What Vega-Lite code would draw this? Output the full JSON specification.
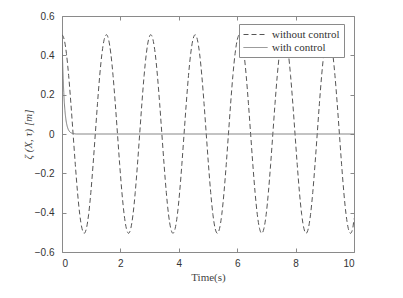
{
  "$schema": "https://vega.github.io/schema/vega-lite/v6.json",
  "autosize": "none",
  "width": 292,
  "height": 236,
  "padding": {"left": 62, "top": 16, "right": 49, "bottom": 46},
  "background": "white",
  "config": {
    "view": {"stroke": "#8a8a8a", "strokeWidth": 1},
    "axis": {
      "grid": false,
      "domain": false,
      "tickSize": -4,
      "tickColor": "#8a8a8a",
      "labelOverlap": false,
      "labelFont": "Liberation Sans",
      "labelFontSize": 10,
      "labelColor": "#333333",
      "titleFont": "Liberation Serif",
      "titleFontSize": 11,
      "titleFontWeight": "normal",
      "titleColor": "#444444"
    },
    "axisY": {"labelOverlap": false},
    "axisQuantitative": {"labelOverlap": false},
    "legend": {
      "title": null, "orient": "none", "legendX": 177, "legendY": 8,
      "symbolType": "M-1,0H3", "symbolSize": 144, "symbolStrokeWidth": 1,
      "labelFont": "Liberation Serif", "labelFontSize": 11, "labelColor": "#333333",
      "labelOffset": 16, "strokeColor": "#8a8a8a", "fillColor": "white",
      "padding": 4, "rowPadding": 1, "offset": 0
    }
  },
  "datasets": {
    "wo": [
      {"t":0,"v":0.505},{"t":0.076,"v":0.480},{"t":0.152,"v":0.409},{"t":0.228,"v":0.297},{"t":0.304,"v":0.156},{"t":0.38,"v":0},{"t":0.456,"v":-0.156},{"t":0.532,"v":-0.297},{"t":0.608,"v":-0.409},{"t":0.684,"v":-0.480},
      {"t":0.76,"v":-0.505},{"t":0.836,"v":-0.480},{"t":0.912,"v":-0.409},{"t":0.988,"v":-0.297},{"t":1.064,"v":-0.156},{"t":1.14,"v":0},{"t":1.216,"v":0.156},{"t":1.292,"v":0.297},{"t":1.368,"v":0.409},{"t":1.444,"v":0.480},
      {"t":1.52,"v":0.505},{"t":1.596,"v":0.480},{"t":1.672,"v":0.409},{"t":1.748,"v":0.297},{"t":1.824,"v":0.156},{"t":1.9,"v":0},{"t":1.976,"v":-0.156},{"t":2.052,"v":-0.297},{"t":2.128,"v":-0.409},{"t":2.204,"v":-0.480},
      {"t":2.28,"v":-0.505},{"t":2.356,"v":-0.480},{"t":2.432,"v":-0.409},{"t":2.508,"v":-0.297},{"t":2.584,"v":-0.156},{"t":2.66,"v":0},{"t":2.736,"v":0.156},{"t":2.812,"v":0.297},{"t":2.888,"v":0.409},{"t":2.964,"v":0.480},
      {"t":3.04,"v":0.505},{"t":3.116,"v":0.480},{"t":3.192,"v":0.409},{"t":3.268,"v":0.297},{"t":3.344,"v":0.156},{"t":3.42,"v":0},{"t":3.496,"v":-0.156},{"t":3.572,"v":-0.297},{"t":3.648,"v":-0.409},{"t":3.724,"v":-0.480},
      {"t":3.8,"v":-0.505},{"t":3.876,"v":-0.480},{"t":3.952,"v":-0.409},{"t":4.028,"v":-0.297},{"t":4.104,"v":-0.156},{"t":4.18,"v":0},{"t":4.256,"v":0.156},{"t":4.332,"v":0.297},{"t":4.408,"v":0.409},{"t":4.484,"v":0.480},
      {"t":4.56,"v":0.505},{"t":4.636,"v":0.480},{"t":4.712,"v":0.409},{"t":4.788,"v":0.297},{"t":4.864,"v":0.156},{"t":4.94,"v":0},{"t":5.016,"v":-0.156},{"t":5.092,"v":-0.297},{"t":5.168,"v":-0.409},{"t":5.244,"v":-0.480},
      {"t":5.32,"v":-0.505},{"t":5.396,"v":-0.480},{"t":5.472,"v":-0.409},{"t":5.548,"v":-0.297},{"t":5.624,"v":-0.156},{"t":5.7,"v":0},{"t":5.776,"v":0.156},{"t":5.852,"v":0.297},{"t":5.928,"v":0.409},{"t":6.004,"v":0.480},
      {"t":6.08,"v":0.505},{"t":6.156,"v":0.480},{"t":6.232,"v":0.409},{"t":6.308,"v":0.297},{"t":6.384,"v":0.156},{"t":6.46,"v":0},{"t":6.536,"v":-0.156},{"t":6.612,"v":-0.297},{"t":6.688,"v":-0.409},{"t":6.764,"v":-0.480},
      {"t":6.84,"v":-0.505},{"t":6.916,"v":-0.480},{"t":6.992,"v":-0.409},{"t":7.068,"v":-0.297},{"t":7.144,"v":-0.156},{"t":7.22,"v":0},{"t":7.296,"v":0.156},{"t":7.372,"v":0.297},{"t":7.448,"v":0.409},{"t":7.524,"v":0.480},
      {"t":7.6,"v":0.505},{"t":7.676,"v":0.480},{"t":7.752,"v":0.409},{"t":7.828,"v":0.297},{"t":7.904,"v":0.156},{"t":7.98,"v":0},{"t":8.056,"v":-0.156},{"t":8.132,"v":-0.297},{"t":8.208,"v":-0.409},{"t":8.284,"v":-0.480},
      {"t":8.36,"v":-0.505},{"t":8.436,"v":-0.480},{"t":8.512,"v":-0.409},{"t":8.588,"v":-0.297},{"t":8.664,"v":-0.156},{"t":8.74,"v":0},{"t":8.816,"v":0.156},{"t":8.892,"v":0.297},{"t":8.968,"v":0.409},{"t":9.044,"v":0.480},
      {"t":9.12,"v":0.505},{"t":9.196,"v":0.480},{"t":9.272,"v":0.409},{"t":9.348,"v":0.297},{"t":9.424,"v":0.156},{"t":9.5,"v":0},{"t":9.576,"v":-0.156},{"t":9.652,"v":-0.297},{"t":9.728,"v":-0.409},{"t":9.804,"v":-0.480},
      {"t":9.88,"v":-0.505},{"t":9.956,"v":-0.480},{"t":10,"v":-0.43}
    ],
    "wc": [
      {"t":0,"v":0.5},{"t":0.02,"v":0.376},{"t":0.04,"v":0.282},{"t":0.06,"v":0.212},{"t":0.08,"v":0.159},{"t":0.1,"v":0.12},{"t":0.13,"v":0.078},{"t":0.16,"v":0.051},{"t":0.2,"v":0.029},{"t":0.25,"v":0.014},{"t":0.3,"v":0.007},{"t":0.4,"v":0.002},{"t":0.5,"v":0},{"t":10,"v":0}
    ]
  },
  "resolve": {"axis": {"x": "independent", "y": "independent"}},
  "layer": [
    {
      "layer": [
        {
          "data": {"name": "wo"},
          "mark": {"type": "line", "strokeWidth": 1, "interpolate": "monotone", "clip": true},
          "transform": [{"calculate": "'without control'", "as": "s"}],
          "encoding": {
            "x": {"field": "t", "type": "quantitative", "scale": {"domain": [0, 10], "nice": false},
                  "axis": {"title": "Time(s)", "values": [0,2,4,6,8,10], "labelOverlap": false, "labelPadding": 10, "titlePadding": 3}},
            "y": {"field": "v", "type": "quantitative", "scale": {"domain": [-0.6, 0.6], "nice": false},
                  "axis": {"title": "ζ (X, τ) [m]", "titleFontStyle": "italic", "values": [-0.6,-0.4,-0.2,0,0.2,0.4,0.6], "labelOverlap": false, "labelSeparation": 0, "labelExpr": "datum.value == 0 ? '0' : format(datum.value, '.1f')", "labelPadding": 12, "titlePadding": 1}},
            "color": {"field": "s", "type": "nominal", "scale": {"domain": ["without control", "with control"], "range": ["#555555", "#7a7a7a"]}},
            "strokeDash": {"field": "s", "type": "nominal", "scale": {"domain": ["without control", "with control"], "range": [[5, 3], [1, 0]]}}
          }
        },
        {
          "data": {"name": "wc"},
          "mark": {"type": "line", "strokeWidth": 1, "interpolate": "monotone", "clip": true},
          "transform": [{"calculate": "'with control'", "as": "s"}],
          "encoding": {
            "x": {"field": "t", "type": "quantitative", "axis": {"title": "Time(s)", "values": [0,2,4,6,8,10], "labelOverlap": false, "labelPadding": 10, "titlePadding": 3}},
            "y": {"field": "v", "type": "quantitative", "axis": {"title": "ζ (X, τ) [m]", "titleFontStyle": "italic", "values": [-0.6,-0.4,-0.2,0,0.2,0.4,0.6], "labelOverlap": false, "labelSeparation": 0, "labelExpr": "datum.value == 0 ? '0' : format(datum.value, '.1f')", "labelPadding": 12, "titlePadding": 1}},
            "color": {"field": "s", "type": "nominal"},
            "strokeDash": {"field": "s", "type": "nominal"}
          }
        }
      ]
    },
    {
      "data": {"name": "wc"},
      "mark": {"type": "line", "opacity": 0},
      "encoding": {
        "x": {"field": "t", "type": "quantitative", "axis": {"orient": "top", "title": null, "labels": false, "values": [0,2,4,6,8,10]}},
        "y": {"field": "v", "type": "quantitative", "axis": {"orient": "right", "title": null, "labels": false, "values": [-0.6,-0.4,-0.2,0,0.2,0.4,0.6]}}
      }
    }
  ]
}
